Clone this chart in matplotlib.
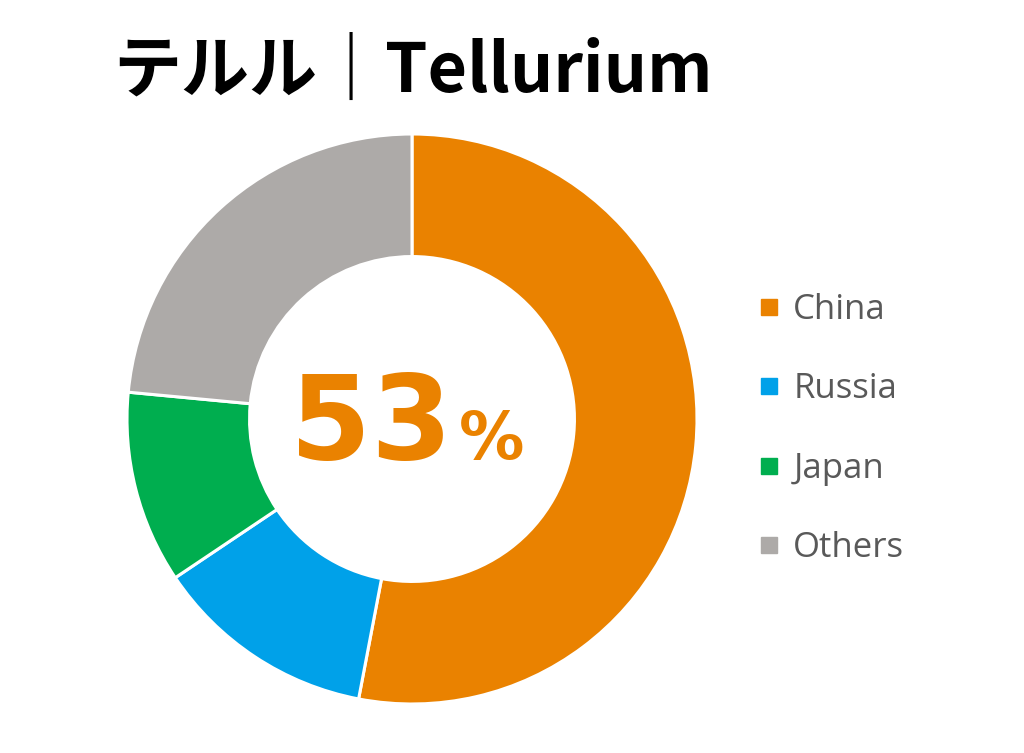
import matplotlib
matplotlib.use("Agg")
import matplotlib.pyplot as plt
from matplotlib.lines import Line2D

# Data
categories = ["China", "Russia", "Japan", "Others"]
shares = [53.0, 12.6, 10.9, 23.5]
colors = ["#EA8200", "#00A1E9", "#00AE4F", "#ADAAA8"]
title = "テルル｜Tellurium"
center_value = "53"
center_unit = "%"

W, H = 1024, 753
fig = plt.figure(figsize=(W / 100, H / 100), dpi=100)
fig.patch.set_facecolor("white")

cx, cy, R = 412, 419, 285
ax = fig.add_axes([(cx - R) / W, (H - cy - R) / H, 2 * R / W, 2 * R / H])
wedges, _ = ax.pie(shares, colors=colors, startangle=90, counterclock=False,
                   radius=1.0, wedgeprops=dict(width=0.43, edgecolor="white", linewidth=2.2))
ax.set_xlim(-1, 1)
ax.set_ylim(-1, 1)
ax.set_aspect("equal")
ax.axis("off")

# Title
fig.text(113 / W, 1 - 72 / H, title, fontsize=49, fontweight="bold",
         family=["Noto Sans CJK JP", "DejaVu Sans"], color="black",
         ha="left", va="center")

# Center label
fig.text(452 / W, 1 - 459 / H, center_value, fontsize=84, fontweight="bold",
         family=["DejaVu Sans"], color=colors[0], ha="right", va="baseline")
fig.text(459 / W, 1 - 459 / H, center_unit, fontsize=47, fontweight="bold",
         family=["DejaVu Sans"], color=colors[0], ha="left", va="baseline")

# Legend
handles = [Line2D([], [], linestyle="none", marker="s", markersize=12,
                  markerfacecolor=c, markeredgecolor=c) for c in colors]
leg = fig.legend(handles, categories, loc="center left",
                 bbox_to_anchor=(760 / W, 1 - 429 / H), frameon=False,
                 prop=dict(family=["Open Sans", "DejaVu Sans"], size=25),
                 labelcolor="#595959", labelspacing=1.31, handlelength=0.5,
                 handletextpad=0.46, borderpad=0, borderaxespad=0)

fig.savefig("out.png", dpi=100, facecolor="white")
